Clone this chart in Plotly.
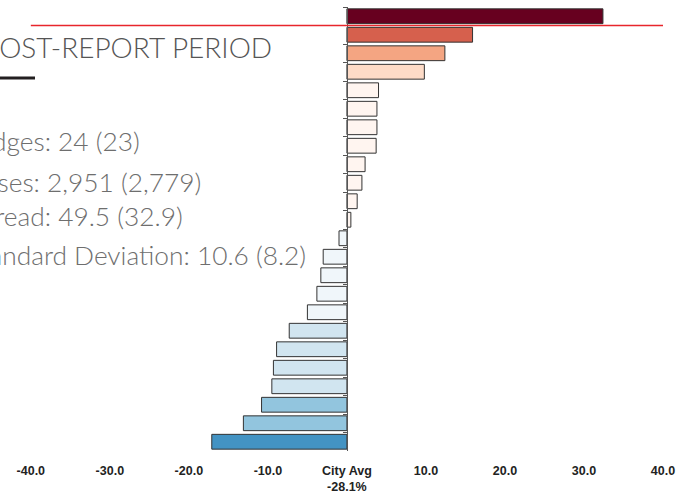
import plotly.graph_objects as go

# ---- data (top to bottom) ----
judges = [f"Judge {i}" for i in range(1, 25)]
values = [32.4, 15.9, 12.4, 9.8, 4.0, 3.8, 3.8, 3.7, 2.3, 1.9, 1.3, 0.5,
          -1.0, -3.0, -3.3, -3.8, -5.0, -7.3, -8.9, -9.3, -9.5, -10.8, -13.1, -17.1]
tick_vals = [-40, -30, -20, -10, 0, 10, 20, 30, 40]
tick_text = ["-40.0", "-30.0", "-20.0", "-10.0", "City Avg<br>-28.1%", "10.0", "20.0", "30.0", "40.0"]
title_text = "POST-REPORT PERIOD"
stats_lines = ["Judges: 24 (23)", "Cases: 2,951 (2,779)", "Spread: 49.5 (32.9)",
               "Standard Deviation: 10.6 (8.2)"]
threshold_from, threshold_to = -40, 40


def bin_color(v):
    if v >= 20: return "#67001f"
    if v >= 15: return "#d6604d"
    if v >= 10: return "#f4a582"
    if v >= 5: return "#fddbc7"
    if v >= 0: return "#fff5f0"
    if v > -6: return "#f0f6fa"
    if v > -10: return "#d1e5f0"
    if v > -15: return "#92c5de"
    return "#4393c3"


colors = [bin_color(v) for v in values]

W, H = 695, 494
mt, mb = 7, 43
plot_h = H - mt - mb
xmin, xmax = -43.9, 44.05


def py(px):  # pixel y -> paper y
    return (H - mb - px) / plot_h


def px_(x):  # pixel x -> paper x
    return x / W


fig = go.Figure()
fig.add_trace(go.Bar(
    x=values, y=judges, orientation="h",
    marker=dict(color=colors, line=dict(color="#333333", width=1)),
    hoverinfo="x+y",
))

fig.add_shape(type="line", xref="x", yref="y", x0=threshold_from, x1=threshold_to,
              y0=0.5, y1=0.5, line=dict(color="#e8262c", width=1.3), layer="above")
fig.add_shape(type="line", xref="paper", yref="paper", x0=px_(-40), x1=px_(35),
              y0=py(78), y1=py(78), line=dict(color="#231f20", width=3))

fig.add_annotation(text=title_text, xref="paper", yref="paper", x=px_(274), y=py(47),
                   xanchor="right", yanchor="middle", showarrow=False,
                   font=dict(family="Lato", size=28, color="#555555", weight=300))
stat_y = [141, 182, 216, 255]
for t, yy in zip(stats_lines, stat_y):
    fig.add_annotation(text=t, xref="paper", yref="paper", x=px_(-35), y=py(yy),
                       xanchor="left", yanchor="middle", showarrow=False, align="left",
                       font=dict(family="Lato", size=26.3, color="#6e6e6e", weight=300))

fig.update_layout(
    width=W, height=H,
    margin=dict(l=0, r=0, t=mt, b=mb, autoexpand=False),
    paper_bgcolor="white", plot_bgcolor="white",
    showlegend=False, bargap=0.2,
    xaxis=dict(range=[xmin, xmax], tickvals=tick_vals, ticktext=tick_text,
               showgrid=False, zeroline=False, showline=False, ticks="",
               automargin=False, ticklabelstandoff=10,
               tickfont=dict(family="Liberation Sans", size=12.5, color="#222222", weight="bold")),
    yaxis=dict(type="category", autorange="reversed", showticklabels=False,
               showgrid=False, zeroline=False, showline=True, linecolor="#555555", linewidth=1,
               ticks="outside", tickson="boundaries", ticklen=4, tickcolor="#555555",
               automargin=False,
               anchor="free", position=(0 - xmin) / (xmax - xmin)),
)

fig.write_html("out.html", config={"displayModeBar": False},
               post_script="document.body.style.margin='0';document.body.style.padding='0';")
